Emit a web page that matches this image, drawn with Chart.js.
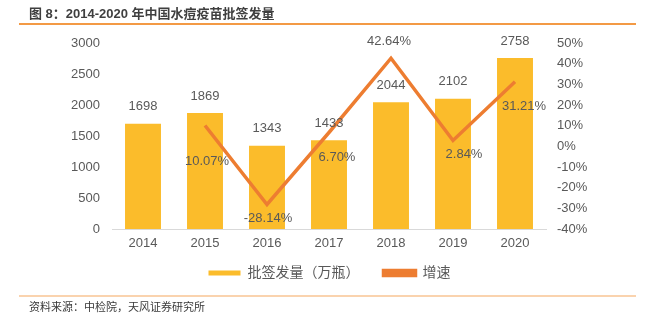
<!DOCTYPE html>
<html>
<head>
<meta charset="utf-8">
<script src="https://cdn.jsdelivr.net/npm/chart.js@4.4.1/dist/chart.umd.min.js"></script>
<style>
  html, body { margin: 0; padding: 0; background: #fff; }
  #wrap { position: relative; width: 659px; height: 322px; overflow: hidden; }
  #chart { position: absolute; left: 0; top: 0; }
  .title {
    position: absolute; left: 29px; top: 6px;
    font: bold 13px 'Liberation Sans', 'Noto Sans CJK SC', sans-serif;
    color: #3f3f3f; line-height: 16px; white-space: nowrap;
  }
  .rule-top { position: absolute; left: 19px; top: 23px; width: 617px; height: 2px; background: #f39a45; }
  .rule-bottom { position: absolute; left: 19px; top: 295px; width: 617px; height: 2px; background: #fad3ae; }
  .source {
    position: absolute; left: 29px; top: 299px;
    font: 11px 'Noto Sans CJK SC', sans-serif; color: #3a3a3a; line-height: 14px;
  }
</style>
</head>
<body>
<div id="wrap">
  <canvas id="chart" width="659" height="322"></canvas>
  <div class="title">图 8：2014-2020 年中国水痘疫苗批签发量</div>
  <div class="rule-top"></div>
  <div class="rule-bottom"></div>
  <div class="source">资料来源：中检院，天风证券研究所</div>
</div>
<script>
// 年份、批签发量（万瓶）、同比增速（%）
const years = ['2014', '2015', '2016', '2017', '2018', '2019', '2020'];
const volumes = [1698, 1869, 1343, 1433, 2044, 2102, 2758];
const growth = [null, 10.07, -28.14, 6.70, 42.64, 2.84, 31.21];

// 增速标签相对折点的偏移 [dx, dy]
const growthLabelOffsets = [null, [2, 36], [1, 14], [8, 25], [-2, -17], [11, 14], [9, 25]];

const FONT = "'Liberation Sans', 'Noto Sans CJK SC', sans-serif";
const GREY = '#595959';

// 图例往上挪，紧贴横轴下方
const legendShift = {
  id: 'legendShift',
  afterLayout(chart) {
    const lg = chart.legend;
    const dy = 242 - lg.top;
    lg.top += dy;
    lg.bottom += dy;
  }
};

const valueLabels = {
  id: 'valueLabels',
  afterDatasetsDraw(chart) {
    const ctx = chart.ctx;
    ctx.save();
    ctx.font = '13px ' + FONT;
    ctx.fillStyle = GREY;
    ctx.textAlign = 'center';
    ctx.textBaseline = 'middle';

    chart.getDatasetMeta(0).data.forEach((bar, i) => {
      ctx.fillText(String(volumes[i]), bar.x, bar.y - 17);
    });

    chart.getDatasetMeta(1).data.forEach((pt, i) => {
      if (growth[i] === null) return;
      const off = growthLabelOffsets[i];
      ctx.fillText(growth[i].toFixed(2) + '%', pt.x + off[0], pt.y + off[1]);
    });
    ctx.restore();
  }
};

new Chart(document.getElementById('chart'), {
  data: {
    labels: years,
    datasets: [
      {
        type: 'bar',
        label: '批签发量（万瓶）',
        data: volumes,
        backgroundColor: '#fbbc2b',
        categoryPercentage: 1,
        barPercentage: 0.58,
        yAxisID: 'y',
        order: 1
      },
      {
        type: 'line',
        label: '增速',
        data: growth,
        borderColor: '#ed7d31',
        backgroundColor: '#ed7d31',
        borderWidth: 3.5,
        pointRadius: 0,
        tension: 0,
        yAxisID: 'y1',
        order: 0
      }
    ]
  },
  options: {
    responsive: false,
    animation: false,
    layout: { padding: { top: 43, bottom: 21, left: 0, right: 0 } },
    plugins: {
      tooltip: { enabled: false },
      legend: {
        position: 'bottom',
        labels: {
          boxWidth: 32,
          boxHeight: 5,
          padding: 24,
          color: GREY,
          font: { size: 14, family: FONT },
          sort: (a, b) => a.datasetIndex - b.datasetIndex
        }
      }
    },
    scales: {
      x: {
        grid: { display: false, drawTicks: false },
        border: { display: true, color: '#d9d9d9' },
        ticks: { color: GREY, font: { size: 13, family: FONT }, padding: 7 },
        afterFit(scale) { scale.height = 24; }
      },
      y: {
        position: 'left',
        min: 0,
        max: 3000,
        grid: { display: false, drawTicks: false },
        border: { display: false },
        ticks: {
          stepSize: 500,
          color: GREY,
          font: { size: 13, family: FONT },
          padding: 12,
          callback: v => String(v)
        },
        afterFit(scale) { scale.width = 112; }
      },
      y1: {
        position: 'right',
        min: -40,
        max: 50,
        grid: { display: false, drawTicks: false },
        border: { display: false },
        ticks: {
          stepSize: 10,
          color: GREY,
          font: { size: 13, family: FONT },
          padding: 11,
          callback: v => v + '%'
        },
        afterFit(scale) { scale.width = 113; }
      }
    }
  },
  plugins: [legendShift, valueLabels]
});
</script>
</body>
</html>
